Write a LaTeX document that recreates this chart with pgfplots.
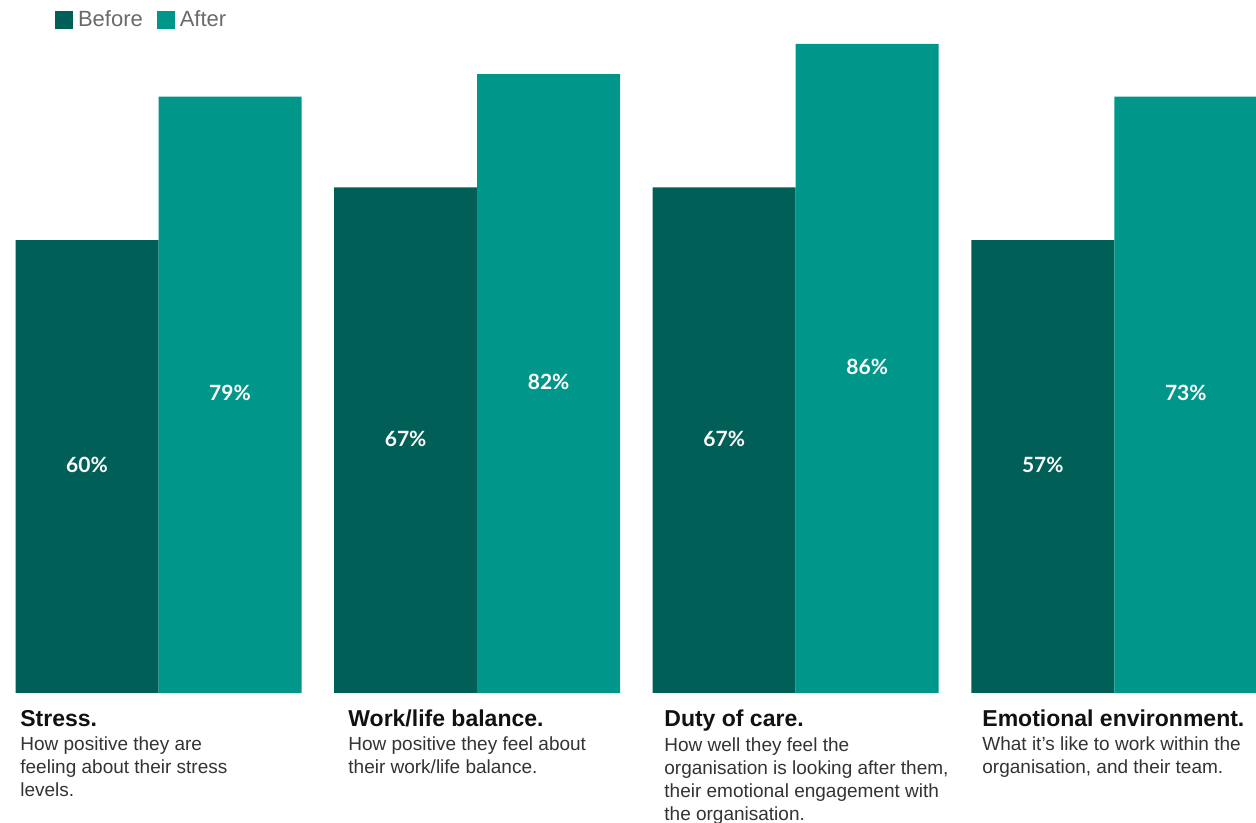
\documentclass[border=0pt]{standalone}
\usepackage{pgfplots}
\pgfplotsset{compat=1.18}
\usepackage{fontspec}
\setmainfont{Liberation Sans}
\newfontfamily\lato{Lato}
\definecolor{before}{HTML}{005F57}
\definecolor{after}{HTML}{00968A}
\definecolor{legtext}{HTML}{6A6A6A}
\definecolor{titletext}{HTML}{111111}
\definecolor{desctext}{HTML}{333333}
\begin{document}
\begin{tikzpicture}
\useasboundingbox (0pt,-65pt) rectangle (628pt,346.5pt);
\begin{axis}[
  at={(0pt,0pt)}, anchor=south west,
  scale only axis, width=628pt, height=346.5pt,
  xmin=-0.4975, xmax=3.4447, ymin=0, ymax=91.82,
  axis lines=none,
  ybar, bar width=0.4488,
  clip=false,
  legend style={at={(0.0438,0.9711)}, anchor=west, draw=none, fill=none,
    inner sep=0pt, outer sep=0pt, legend columns=2,
    font=\fontsize{11}{12}\selectfont, text=legtext,
    nodes={inner sep=0pt},
    /tikz/every even column/.append style={column sep=7pt},
    /tikz/every odd column/.append style={column sep=2.5pt}},
  legend image code/.code={\fill[#1] (0pt,-4.5pt) rectangle (9pt,4.5pt);},
  nodes near coords,
  point meta=explicit symbolic,
  visualization depends on=y \as \rawy,
  every node near coord/.append style={anchor=center, yshift={-\rawy*1.88675pt+0.8pt},
    font=\lato\bfseries\fontsize{10.5}{12}\selectfont, text=white},
]
\addplot[fill=before, draw=none, bar shift=-0.2244] coordinates {
  (0,60) [60\%] (1,67) [67\%] (2,67) [67\%] (3,60) [57\%]};
\addplot[fill=after, draw=none, bar shift=0.2244] coordinates {
  (0,79) [79\%] (1,82) [82\%] (2,86) [86\%] (3,79) [73\%]};
\legend{Before, After}
\end{axis}
\begin{scope}[every node/.style={anchor=base west, inner sep=0pt}]
\node[font=\bfseries\fontsize{11.5}{13}\selectfont, text=titletext] at (10pt,-17pt) {Stress.};
\node[font=\bfseries\fontsize{11.5}{13}\selectfont, text=titletext] at (174pt,-17pt) {Work/life balance.};
\node[font=\bfseries\fontsize{11.5}{13}\selectfont, text=titletext] at (332pt,-17pt) {Duty of care.};
\node[font=\bfseries\fontsize{11.5}{13}\selectfont, text=titletext] at (491pt,-17pt) {Emotional environment.};
\node[align=left, font=\fontsize{9.5}{11.5}\selectfont, text=desctext] at (10pt,-52pt) {How positive they are\\feeling about their stress\\levels.};
\node[align=left, font=\fontsize{9.5}{11.5}\selectfont, text=desctext] at (174pt,-40.5pt) {How positive they feel about\\their work/life balance.};
\node[align=left, font=\fontsize{9.5}{11.5}\selectfont, text=desctext] at (332pt,-63.5pt) {How well they feel the\\organisation is looking after them,\\their emotional engagement with\\the organisation.};
\node[align=left, font=\fontsize{9.5}{11.5}\selectfont, text=desctext] at (491pt,-40.5pt) {What it's like to work within the\\organisation, and their team.};
\end{scope}
\end{tikzpicture}
\end{document}
